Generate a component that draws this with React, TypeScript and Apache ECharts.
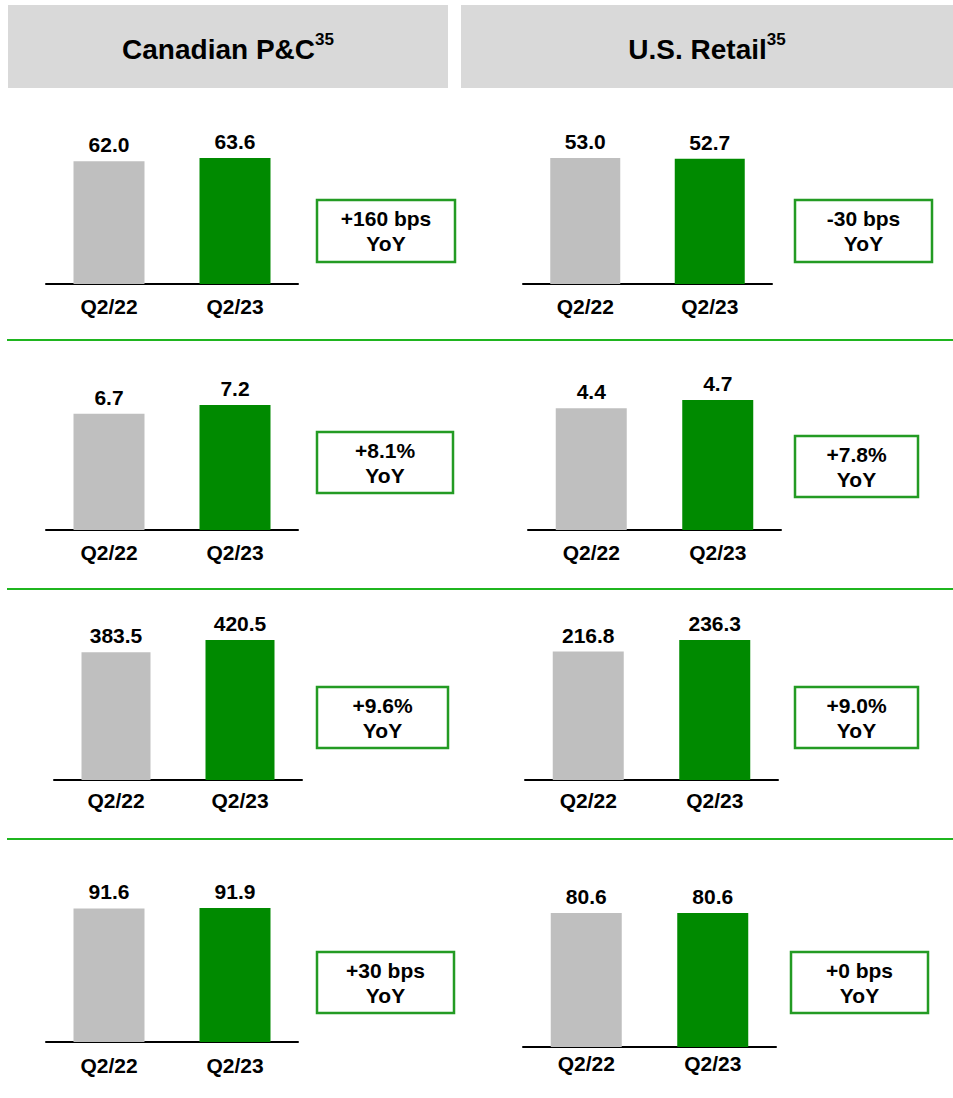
import React, { useEffect, useRef } from "react";
import * as echarts from "echarts";

const FONT = "'Liberation Sans', Arial, sans-serif";

// ---- Data ----
const categories = ["Q2/22", "Q2/23"];
const headerTitles = ["Canadian P&C", "U.S. Retail"];
const headerNote = "35";

const canadianRow1 = [62.0, 63.6];
const canadianRow2 = [6.7, 7.2];
const canadianRow3 = [383.5, 420.5];
const canadianRow4 = [91.6, 91.9];

const usRow1 = [53.0, 52.7];
const usRow2 = [4.4, 4.7];
const usRow3 = [216.8, 236.3];
const usRow4 = [80.6, 80.6];

const canadianYoY = ["+160 bps", "+8.1%", "+9.6%", "+30 bps"];
const usYoY = ["-30 bps", "+7.8%", "+9.0%", "+0 bps"];

// ---- Layout (positions only) ----
type Panel = {
  values: number[];
  yoy: string;
  x0: number;
  x1: number;
  top: number;
  base: number;
  barW: number;
  margin: number;
  box: [number, number, number, number];
};

const panels: Panel[] = [
  { values: canadianRow1, yoy: canadianYoY[0], x0: 46, x1: 298, top: 158, base: 284, barW: 71, margin: 12, box: [317, 200, 138, 62] },
  { values: usRow1, yoy: usYoY[0], x0: 523, x1: 772, top: 158, base: 284, barW: 70, margin: 12, box: [795, 200, 137, 62] },
  { values: canadianRow2, yoy: canadianYoY[1], x0: 46, x1: 298, top: 405, base: 530, barW: 71, margin: 12, box: [317, 432, 136, 61] },
  { values: usRow2, yoy: usYoY[1], x0: 528, x1: 781, top: 400, base: 530, barW: 71, margin: 12, box: [795, 436, 123, 61] },
  { values: canadianRow3, yoy: canadianYoY[2], x0: 54, x1: 302, top: 640, base: 780, barW: 69, margin: 10, box: [317, 687, 131, 61] },
  { values: usRow3, yoy: usYoY[2], x0: 525, x1: 778, top: 640, base: 780, barW: 71, margin: 10, box: [795, 687, 123, 61] },
  { values: canadianRow4, yoy: canadianYoY[3], x0: 46, x1: 298, top: 908, base: 1042, barW: 71, margin: 13, box: [317, 952, 137, 61] },
  { values: usRow4, yoy: usYoY[3], x0: 523, x1: 776, top: 913, base: 1047, barW: 71, margin: 6, box: [791, 952, 137, 61] },
];

const separatorsY = [340, 589, 839];
const headerBoxes: [number, number, number, number][] = [
  [8, 5, 440, 83],
  [461, 5, 492, 83],
];

const GRAY = "#bfbfbf";
const GREEN = "#008a00";
const BOX_GREEN = "#239b23";
const SEP_GREEN = "#1fb51f";

export default function App() {
  const ref = useRef<HTMLDivElement>(null);

  useEffect(() => {
    if (!ref.current) return;
    const chart = echarts.init(ref.current, null, { renderer: "svg" });

    const graphic: any[] = [];
    headerBoxes.forEach((b, i) => {
      graphic.push({
        type: "rect",
        shape: { x: b[0], y: b[1], width: b[2], height: b[3] },
        style: { fill: "#d9d9d9" },
      });
      graphic.push({
        type: "text",
        x: b[0] + b[2] / 2,
        y: 47,
        style: {
          text: `{a|${headerTitles[i]}}{s|${headerNote}}`,
          align: "center",
          verticalAlign: "middle",
          rich: {
            a: { fontSize: 28, fontWeight: "bold", fontFamily: FONT, fill: "#000", lineHeight: 32, verticalAlign: "bottom" },
            s: { fontSize: 17, fontWeight: "bold", fontFamily: FONT, fill: "#000", verticalAlign: "top", lineHeight: 32, padding: [0, 0, 6, 0] },
          },
        },
      });
    });
    separatorsY.forEach((y) => {
      graphic.push({
        type: "line",
        shape: { x1: 7, y1: y, x2: 953, y2: y },
        style: { stroke: SEP_GREEN, lineWidth: 2 },
      });
    });
    panels.forEach((p) => {
      const [bx, by, bw, bh] = p.box;
      graphic.push({
        type: "rect",
        shape: { x: bx, y: by, width: bw, height: bh },
        style: { fill: "#fff", stroke: BOX_GREEN, lineWidth: 2.5 },
      });
      graphic.push({
        type: "text",
        x: bx + bw / 2,
        y: by + bh / 2,
        style: {
          text: `${p.yoy}\nYoY`,
          align: "center",
          verticalAlign: "middle",
          fontSize: 21,
          fontWeight: "bold",
          fontFamily: FONT,
          fill: "#000",
          lineHeight: 25,
        },
      });
    });

    const option: any = {
      animation: false,
      backgroundColor: "#fff",
      grid: panels.map((p) => ({
        left: p.x0,
        top: p.top,
        width: p.x1 - p.x0,
        height: p.base - p.top,
      })),
      xAxis: panels.map((p, i) => ({
        type: "category",
        gridIndex: i,
        data: categories,
        axisLine: { show: true, lineStyle: { color: "#000", width: 2 } },
        axisTick: { show: false },
        axisLabel: {
          margin: p.margin,
          fontSize: 21,
          fontWeight: "bold",
          color: "#000",
          fontFamily: FONT,
        },
      })),
      yAxis: panels.map((p, i) => ({
        type: "value",
        gridIndex: i,
        min: 0,
        max: Math.max(...p.values),
        show: false,
        splitLine: { show: false },
      })),
      series: panels.map((p, i) => ({
        type: "bar",
        xAxisIndex: i,
        yAxisIndex: i,
        barWidth: p.barW,
        data: p.values.map((v, j) => ({
          value: v,
          itemStyle: { color: j === 0 ? GRAY : GREEN },
        })),
        label: {
          show: true,
          position: "top",
          distance: 6,
          fontSize: 21,
          fontWeight: "bold",
          color: "#000",
          fontFamily: FONT,
          formatter: (params: any) => Number(params.value).toFixed(1),
        },
      })),
      graphic,
    };

    chart.setOption(option);
    return () => chart.dispose();
  }, []);

  return (
    <div
      ref={ref}
      style={{ position: "absolute", left: 0, top: 0, width: 953, height: 1098 }}
    />
  );
}
